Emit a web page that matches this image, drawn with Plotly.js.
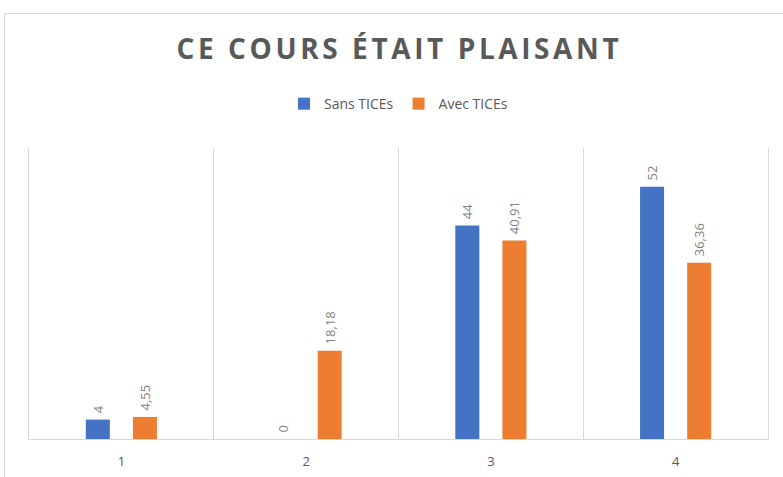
<!DOCTYPE html>
<html>
<head>
<meta charset="utf-8">
<script src="https://cdn.plot.ly/plotly-3.0.1.min.js"></script>
<style>
  html, body { margin: 0; padding: 0; background: #fff; }
  #wrap { position: relative; width: 783px; height: 477px; overflow: hidden; }
  #chart { position: absolute; left: 0; top: 0; width: 783px; height: 477px; }
  #frame { position: absolute; left: 4px; top: 13px; width: 820px; height: 500px;
           border: 1px solid #d9d9d9; pointer-events: none; box-sizing: border-box; }
  .gtitle { letter-spacing: 3.6px; }
</style>
</head>
<body>
<div id="wrap">
  <div id="chart"></div>
  <div id="frame"></div>
</div>
<script>
const categories = ["1", "2", "3", "4"];
const sansTICEs = [4, 0, 44, 52];
const avecTICEs = [4.55, 18.18, 40.91, 36.36];
const seriesNames = ["Sans TICEs", "Avec TICEs"];

const fmt = v => "\u00a0" + String(v).replace('.', ',');
const labelFont = { family: "Open Sans, sans-serif", size: 13, color: "#7f7f7f" };

const traces = [
  {
    type: "bar", name: seriesNames[0], x: categories, y: sansTICEs,
    marker: { color: "#4472C4" },
    text: sansTICEs.map(fmt), textposition: "outside", textangle: -90,
    textfont: labelFont, cliponaxis: false, constraintext: "none",
    hoverinfo: "x+y"
  },
  {
    type: "bar", name: seriesNames[1], x: categories, y: avecTICEs,
    marker: { color: "#ED7D31" },
    text: avecTICEs.map(fmt), textposition: "outside", textangle: -90,
    textfont: labelFont, cliponaxis: false, constraintext: "none",
    hoverinfo: "x+y"
  }
];

const layout = {
  width: 783, height: 477,
  margin: { l: 29, r: 15, t: 148, b: 38 },
  paper_bgcolor: "rgba(0,0,0,0)", plot_bgcolor: "rgba(0,0,0,0)",
  barmode: "group", bargap: 0.49, bargroupgap: 0.49,
  title: {
    text: "<b>CE COURS ÉTAIT PLAISANT</b>",
    font: { family: "Open Sans, sans-serif", size: 28, color: "#595959" },
    x: 0.51, xanchor: "center", y: 0.897, yanchor: "middle", yref: "container"
  },
  showlegend: true,
  legend: {
    orientation: "h", x: 0.5, xanchor: "center", y: 1.151, yanchor: "middle",
    font: { family: "Open Sans, sans-serif", size: 14, color: "#595959" },
    itemwidth: 30, traceorder: "normal"
  },
  xaxis: {
    type: "category", tickson: "boundaries", showgrid: true, gridcolor: "#d9d9d9",
    gridwidth: 1, ticks: "", showline: true, linecolor: "#d9d9d9", linewidth: 1,
    tickfont: { family: "Open Sans, sans-serif", size: 13, color: "#595959" },
    ticklabelstandoff: 10,
    range: [-0.5, 3.5], fixedrange: true
  },
  yaxis: {
    range: [0, 60], showgrid: false, zeroline: false, showticklabels: false,
    ticks: "", showline: true, mirror: true, linecolor: "#d9d9d9", linewidth: 1,
    fixedrange: true
  }
};

Plotly.newPlot("chart", traces, layout, { displayModeBar: false, staticPlot: true });
</script>
</body>
</html>
